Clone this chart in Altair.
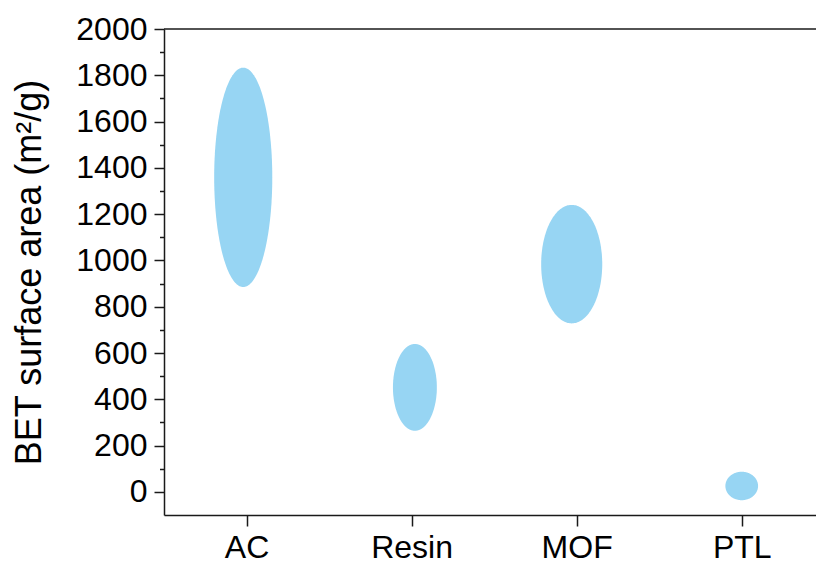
import altair as alt
import pandas as pd

# ---- data ----
materials = ["AC", "Resin", "MOF", "PTL"]
x_center = [0.98, 2.02, 2.97, 4.0]          # category position (1..4)
bet_low = [885, 264, 728, -36]              # lower end of BET range (m2/g)
bet_high = [1833, 639, 1240, 87]            # upper end of BET range (m2/g)
half_width = [0.176, 0.133, 0.185, 0.099]   # horizontal half-size of ellipse (category units)

x_ticks = [1, 2, 3, 4]
y_ticks = list(range(0, 2001, 100))
outline_steps = list(range(0, 101))         # sample index along each ellipse outline

df = pd.DataFrame({
    "material": materials,
    "xc": x_center,
    "lo": bet_low,
    "hi": bet_high,
    "rx": half_width,
})
steps = pd.DataFrame({"k": outline_steps})
df_outline = df.merge(steps, how="cross")

FONT = "Liberation Sans"
INK = "#1a1a1a"
FILL = "#97D5F3"
TITLE = "BET surface area (m²/g)"
PLOT_W = 652
PLOT_H = 486

label_expr = "[" + ",".join(f"'{m}'" for m in materials) + "][datum.value - 1]"

x_axis = alt.Axis(
    values=x_ticks, labelExpr=label_expr, title=None, grid=False,
    domainColor=INK, domainWidth=1.5, tickColor=INK, tickWidth=1.5, tickSize=11,
    labelFont=FONT, labelFontSize=32, labelColor="#000", labelPadding=6,
    labelAngle=0,
)
y_axis = alt.Axis(
    values=y_ticks, grid=False,
    labelExpr="datum.value % 200 === 0 ? datum.label : ''",
    labelOverlap=False,
    format="d",
    domainColor=INK, domainWidth=1.5, tickColor=INK, tickWidth=1.5,
    tickSize={"condition": {"test": "datum.value % 200 === 0", "value": 10}, "value": 4.5},
    labelFont=FONT, labelFontSize=32, labelColor="#000", labelPadding=7,
    title=TITLE, titleFont=FONT, titleFontSize=36,
    titleFontWeight="normal", titleColor="#000",
    titleAngle=-90, titleX=-124, titleBaseline="alphabetic",
)

x_scale = alt.Scale(domain=[0.5, 4.45], nice=False, zero=False)
y_scale = alt.Scale(domain=[-100, 2000], nice=False, zero=False)

ellipses = (
    alt.Chart(df_outline)
    .transform_calculate(t="PI * datum.k / 100")
    .transform_calculate(xe="datum.xc - datum.rx * cos(datum.t)")
    .transform_calculate(mid="(datum.lo + datum.hi) / 2")
    .transform_calculate(hh="(datum.hi - datum.lo) / 2")
    .transform_calculate(ytop="datum.mid + datum.hh * sin(datum.t)")
    .transform_calculate(ybot="datum.mid - datum.hh * sin(datum.t)")
    .mark_area(color=FILL, opacity=1)
    .encode(
        x=alt.X("xe:Q", scale=x_scale, axis=x_axis),
        y=alt.Y("ytop:Q", scale=y_scale, axis=y_axis, title=TITLE),
        y2="ybot:Q",
        detail="material:N",
    )
)

# top frame line of the plot area
top_border = (
    alt.Chart(pd.DataFrame({"edge": ["top"]}))
    .mark_rule(color=INK, strokeWidth=1.5)
    .encode(x=alt.value(0), x2=alt.value(PLOT_W), y=alt.value(0))
)

chart = (
    alt.layer(ellipses, top_border)
    .properties(
        width=PLOT_W, height=PLOT_H,
        autosize=alt.AutoSizeParams(type="none"),
        padding={"left": 164, "top": 29, "right": 0, "bottom": 51},
        background="white",
    )
    .configure_view(stroke="transparent", strokeWidth=0, strokeOpacity=0)
)

chart.save("out.html", embed_options={"renderer": "svg", "actions": False})
